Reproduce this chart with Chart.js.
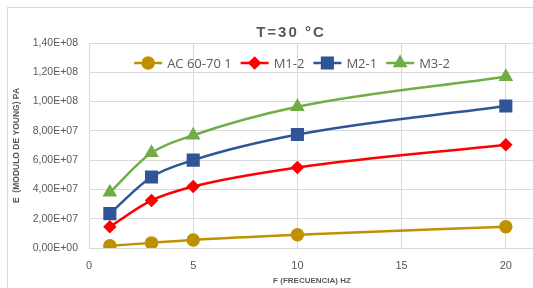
<!DOCTYPE html>
<html>
<head>
<meta charset="utf-8">
<script src="https://cdn.jsdelivr.net/npm/chart.js@4.4.0/dist/chart.umd.min.js"></script>
<style>
  html, body { margin: 0; padding: 0; background: #fff; }
  #wrap { position: relative; width: 533px; height: 288px; overflow: hidden; }
  #frame { position: absolute; left: 7px; top: 7px; width: 540px; height: 290px; border: 1px solid #d9d9d9; box-sizing: border-box; }
  canvas { position: absolute; left: 0; top: 0; }
</style>
</head>
<body>
<div id="wrap">
  <div id="frame"></div>
  <canvas id="chart" width="545" height="288"></canvas>
</div>
<script>
// Datos
const frecuencias = [1, 3, 5, 10, 20];
const serieAC = [1.5e6, 3.5e6, 5.5e6, 9.0e6, 1.45e7];
const serieM12 = [1.45e7, 3.25e7, 4.2e7, 5.5e7, 7.05e7];
const serieM21 = [2.35e7, 4.85e7, 6.0e7, 7.75e7, 9.7e7];
const serieM32 = [3.8e7, 6.5e7, 7.7e7, 9.65e7, 1.17e8];
const nombres = ['AC 60-70 1', 'M1-2', 'M2-1', 'M3-2'];
const ticksX = [0, 5, 10, 15, 20];

const gris = '#595959';

function puntos(valores) {
  return frecuencias.map((f, i) => ({ x: f, y: valores[i] }));
}

function formatoCientifico(v) {
  const partes = Number(v).toExponential(2).split('e');
  const exp = parseInt(partes[1], 10);
  const signo = exp < 0 ? '-' : '+';
  return partes[0].replace('.', ',') + 'E' + signo + String(Math.abs(exp)).padStart(2, '0');
}

function serie(nombre, valores, color, estilo, radio) {
  return {
    label: nombre,
    data: puntos(valores),
    borderColor: color,
    backgroundColor: color,
    pointStyle: estilo,
    pointRadius: radio,
    pointBorderColor: color,
    pointBackgroundColor: color,
    borderWidth: 2.5,
    cubicInterpolationMode: 'monotone'
  };
}

// título y leyenda dibujados a mano, al estilo Excel
const tituloYLeyenda = {
  id: 'tituloYLeyenda',
  afterDatasetsDraw(chart) {
    const ctx = chart.ctx;
    ctx.save();
    ctx.fillStyle = gris;
    ctx.font = 'bold 15px "Liberation Sans"';
    ctx.letterSpacing = '2px';
    ctx.textAlign = 'center';
    ctx.textBaseline = 'middle';
    ctx.fillText('T=30 °C', 291, 33);
    ctx.letterSpacing = '0px';

    ctx.font = '13px "Open Sans"';
    ctx.textAlign = 'left';
    const linea = 28, hueco = 5, sep = 9;
    const items = chart.data.datasets.map(d => ({ d, w: ctx.measureText(d.label).width }));
    const total = items.reduce((s, it) => s + linea + hueco + it.w, 0) + sep * (items.length - 1);
    let x = 292 - total / 2;
    const y = 63;
    items.forEach(it => {
      const d = it.d;
      ctx.strokeStyle = d.borderColor;
      ctx.lineWidth = 2.5;
      ctx.beginPath();
      ctx.moveTo(x, y);
      ctx.lineTo(x + linea, y);
      ctx.stroke();
      ctx.fillStyle = d.backgroundColor;
      Chart.helpers.drawPoint(ctx, { pointStyle: d.pointStyle, radius: d.pointRadius, borderWidth: 1 }, x + linea / 2, y);
      ctx.fillStyle = gris;
      ctx.fillText(d.label, x + linea + hueco, y + 1);
      x += linea + hueco + it.w + sep;
    });
    ctx.restore();
  }
};

new Chart(document.getElementById('chart'), {
  type: 'line',
  data: {
    datasets: [
      serie(nombres[0], serieAC, '#BF9000', 'circle', 5.5),
      serie(nombres[1], serieM12, '#FF0000', 'rectRot', 5),
      serie(nombres[2], serieM21, '#2F5597', 'rect', 7.5),
      serie(nombres[3], serieM32, '#70AD47', 'triangle', 6)
    ]
  },
  options: {
    responsive: false,
    animation: false,
    layout: { padding: { left: 12, right: 0, top: 43, bottom: 2 } },
    plugins: {
      title: { display: false },
      legend: { display: false },
      tooltip: { enabled: false }
    },
    scales: {
      x: {
        type: 'linear',
        min: 0,
        max: 21.4,
        afterFit: s => { s.height = 38; },
        afterBuildTicks: s => { s.ticks = ticksX.map(v => ({ value: v })); },
        grid: { color: '#d9d9d9', drawTicks: false },
        border: { display: false },
        ticks: { color: gris, font: { family: 'Liberation Sans', size: 11 }, padding: 11, maxRotation: 0 },
        title: {
          display: true,
          text: 'F (FRECUENCIA) HZ',
          color: gris,
          font: { family: 'Liberation Sans', size: 8, weight: 'bold' },
          padding: { top: 0, bottom: 0 }
        }
      },
      y: {
        min: 0,
        max: 1.4e8,
        afterFit: s => { s.width = 77; },
        grid: { color: '#d9d9d9', drawTicks: false },
        border: { display: false },
        ticks: {
          stepSize: 2e7,
          color: gris,
          font: { family: 'Liberation Sans', size: 10.5 },
          padding: 11,
          callback: v => formatoCientifico(v)
        },
        title: {
          display: true,
          text: 'E  (MODULO DE YOUNG) PA',
          color: gris,
          font: { family: 'Liberation Sans', size: 8.5, weight: 'bold' },
          padding: { top: 0, bottom: 0 }
        }
      }
    }
  },
  plugins: [tituloYLeyenda]
});
</script>
</body>
</html>
